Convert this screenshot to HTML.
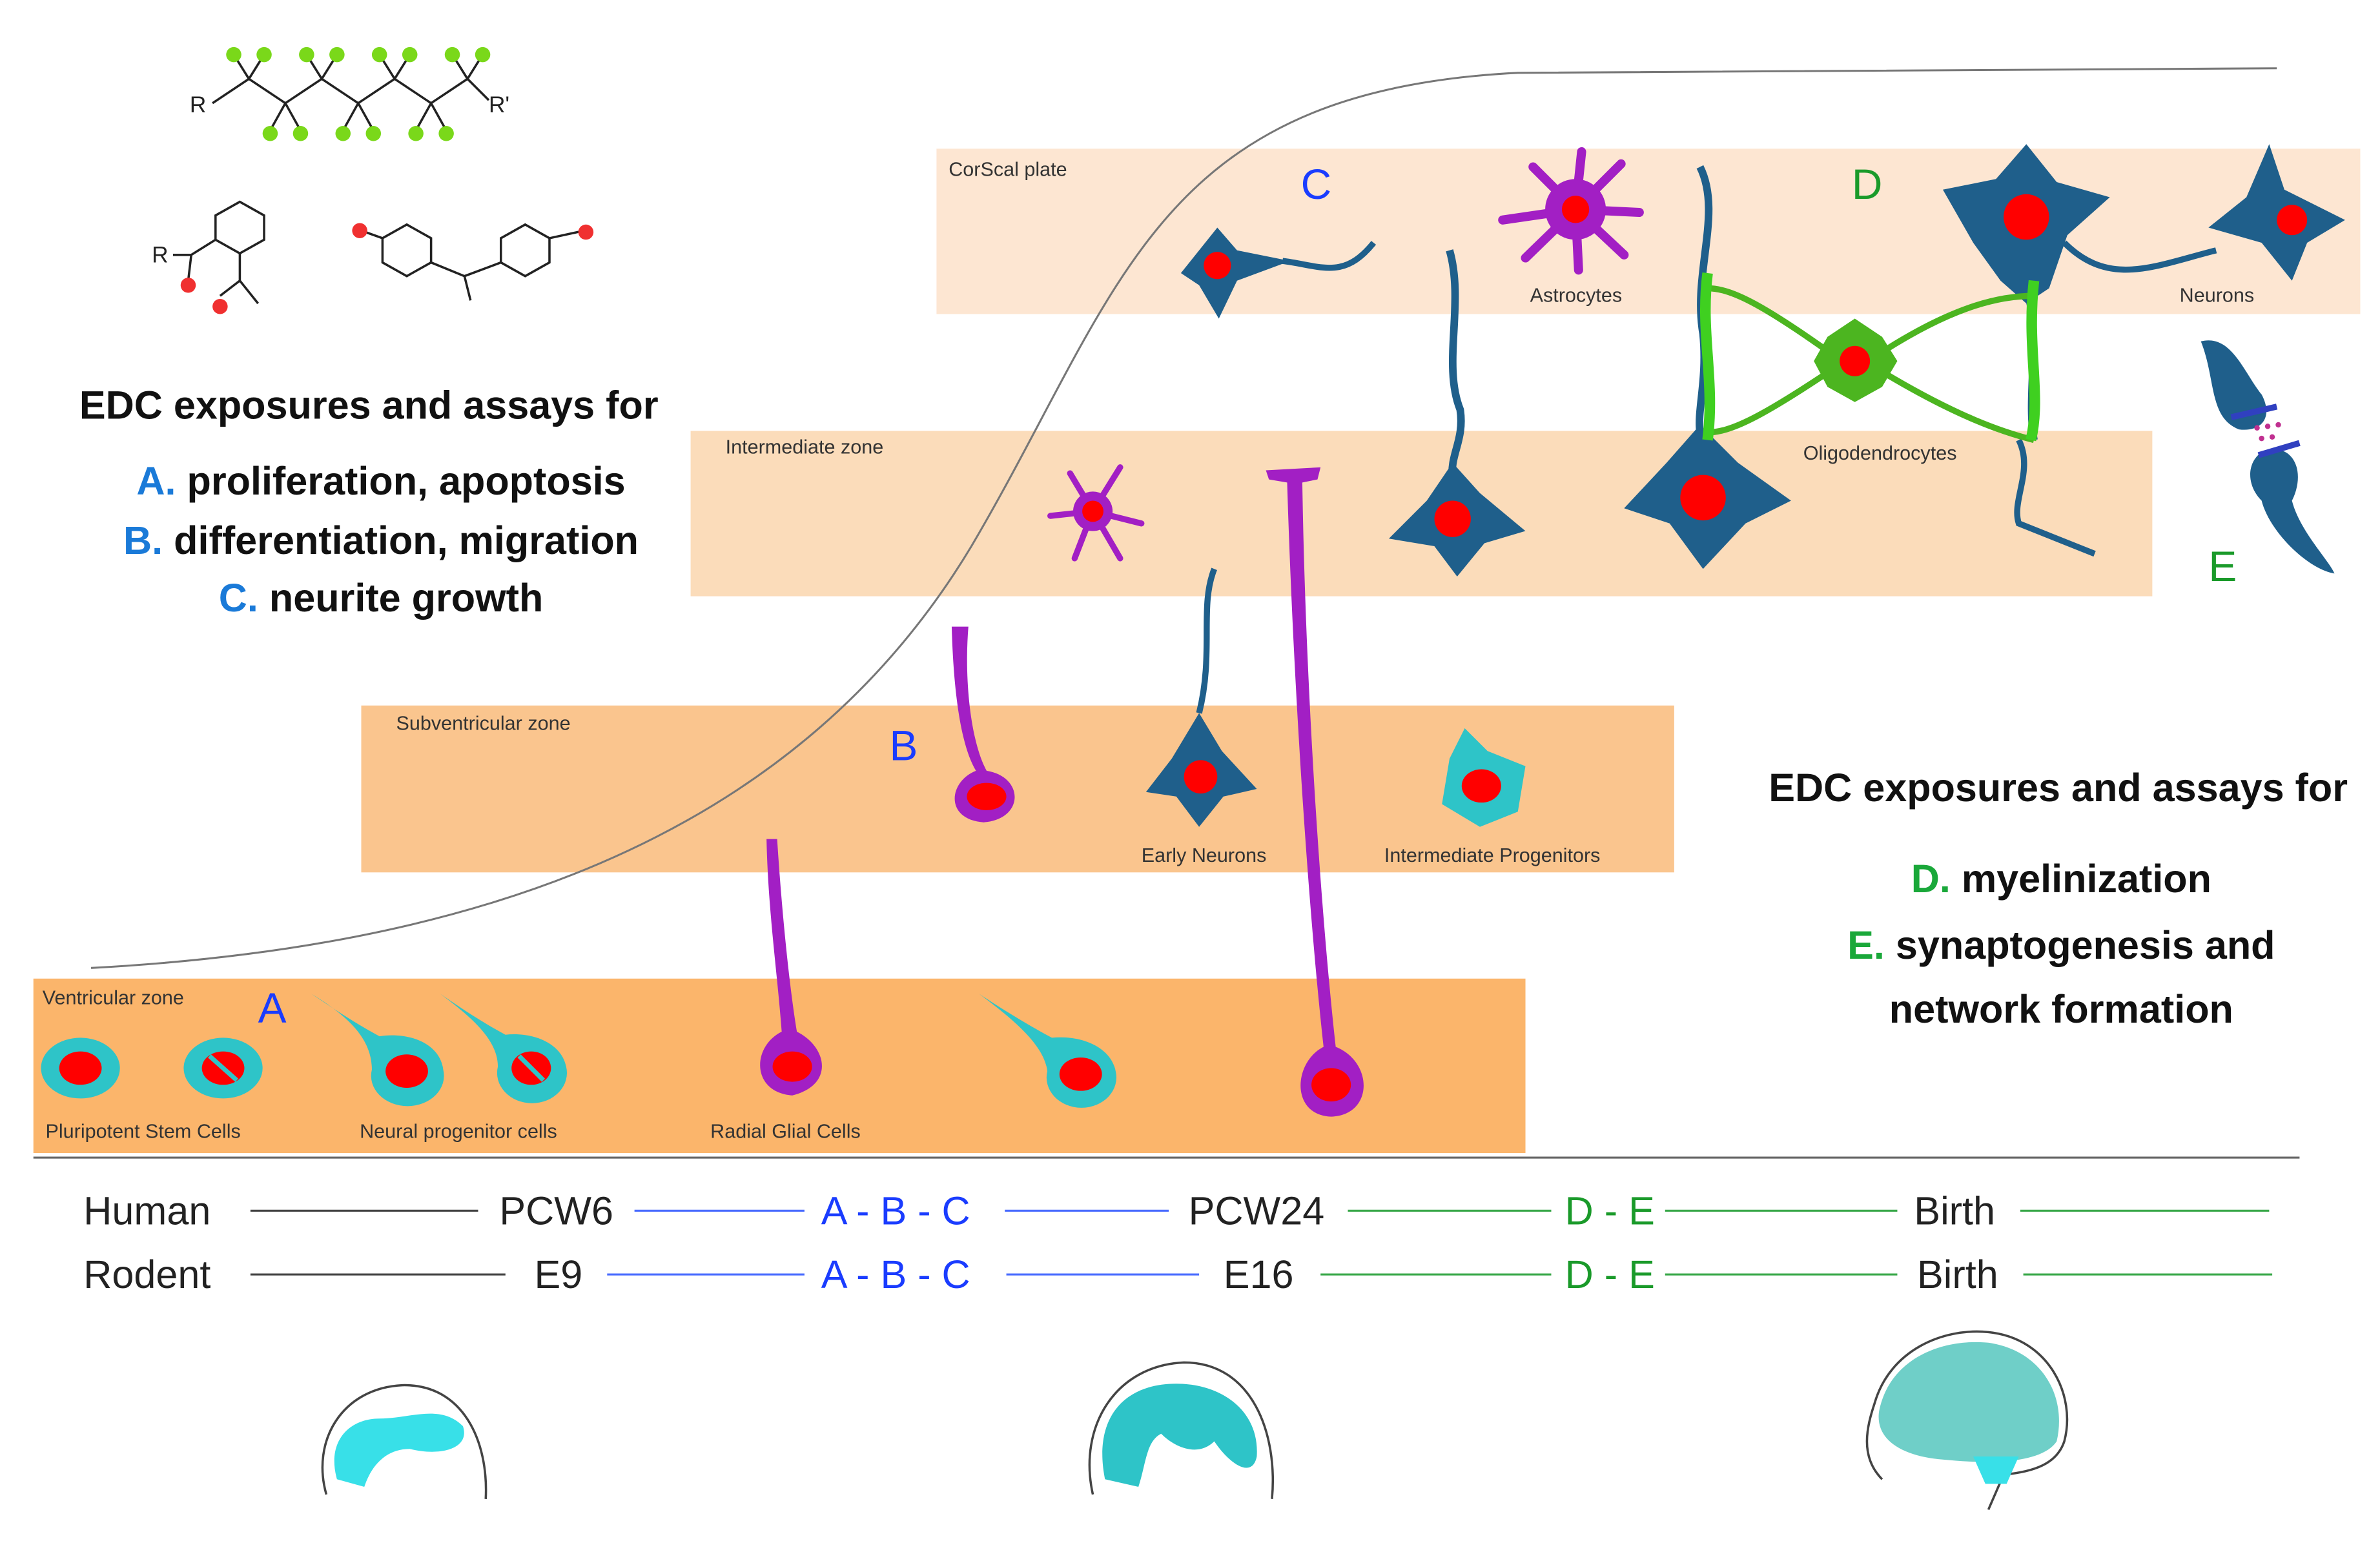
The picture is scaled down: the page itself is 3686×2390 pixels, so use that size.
<!DOCTYPE html>
<html><head><meta charset="utf-8"><style>
html,body{margin:0;padding:0;background:#fff;}
svg{display:block;}
text{font-family:"Liberation Sans","DejaVu Sans",sans-serif;}
</style></head><body>
<svg width="3686" height="2390" viewBox="0 0 1568 1017" preserveAspectRatio="none" xmlns="http://www.w3.org/2000/svg">
<rect width="1568" height="1017" fill="#fff"/>
<!-- zones -->
<rect x="617" y="98" width="938" height="109" fill="#fde6d2"/>
<rect x="455" y="284" width="963" height="109" fill="#fbdcba"/>
<rect x="238" y="465" width="865" height="110" fill="#fac58e"/>
<rect x="22" y="645" width="983" height="115" fill="#fbb56b"/>
<g font-size="13" fill="#333">
<text x="625" y="116">CorScal plate</text>
<text x="478" y="299">Intermediate zone</text>
<text x="261" y="481">Subventricular zone</text>
<text x="28" y="662">Ventricular zone</text>
<text x="30" y="750">Pluripotent Stem Cells</text>
<text x="237" y="750">Neural progenitor cells</text>
<text x="468" y="750">Radial Glial Cells</text>
<text x="752" y="568">Early Neurons</text>
<text x="912" y="568">Intermediate Progenitors</text>
<text x="1008" y="199">Astrocytes</text>
<text x="1188" y="303">Oligodendrocytes</text>
<text x="1436" y="199">Neurons</text>
</g>
<!-- sigmoid curve -->
<path d="M60 638 C 300 625, 520 560, 640 360 C 740 190, 760 60, 1000 48 L 1500 45" fill="none" stroke="#777" stroke-width="1.3"/>
<!-- baseline -->
<line x1="22" y1="763" x2="1515" y2="763" stroke="#666" stroke-width="1.3"/>
<!-- ventricular cells -->
<g>
<ellipse cx="53" cy="704" rx="26" ry="20" fill="#2ec4c8"/><ellipse cx="53" cy="704" rx="14" ry="11" fill="#f00"/>
<ellipse cx="147" cy="704" rx="26" ry="20" fill="#2ec4c8"/><ellipse cx="147" cy="704" rx="14" ry="11" fill="#f00"/>
<line x1="138" y1="696" x2="156" y2="712" stroke="#2ec4c8" stroke-width="3"/>
<path d="M205 655 C 230 670, 245 685, 245 705 A 24 20 0 1 0 292 705 C 290 688, 270 680, 250 683 C 235 675, 220 665, 205 655 Z" fill="#2ec4c8"/><ellipse cx="268" cy="706" rx="14" ry="11" fill="#f00"/>
<path d="M290 655 C 310 670, 328 685, 328 703 A 23 20 0 1 0 373 703 C 370 688, 352 680, 333 682 C 318 674, 303 664, 290 655 Z" fill="#2ec4c8"/><ellipse cx="350" cy="704" rx="13" ry="11" fill="#f00"/>
<line x1="342" y1="696" x2="358" y2="712" stroke="#2ec4c8" stroke-width="3"/>
<path d="M645 655 C 665 670, 688 688, 690 706 A 23 20 0 1 0 735 706 C 732 690, 712 682, 693 684 C 678 676, 660 665, 645 655 Z" fill="#2ec4c8"/><ellipse cx="712" cy="708" rx="14" ry="11" fill="#f00"/>
<!-- radial glia -->
<path d="M505 553 L512 553 C 515 600, 520 650, 525 680 C 545 690, 550 715, 522 722 C 495 720, 495 690, 515 680 C 512 640, 506 600, 505 553 Z" fill="#a21fc4"/><ellipse cx="522" cy="703" rx="13" ry="10" fill="#f00"/>
<path d="M834 310 L870 308 L868 316 L858 318 C 860 450, 870 600, 880 690 C 905 700, 905 735, 877 736 C 850 735, 852 700, 872 690 C 862 600, 852 450, 848 318 L836 316 Z" fill="#a21fc4"/><ellipse cx="877" cy="715" rx="13" ry="11" fill="#f00"/>
<path d="M627 413 L638 413 C 635 450, 640 490, 650 508 C 675 512, 675 540, 648 542 C 622 540, 625 515, 643 508 C 632 490, 628 450, 627 413 Z" fill="#a21fc4"/><ellipse cx="650" cy="525" rx="13" ry="9" fill="#f00"/>
</g>
<!-- early neuron & IP -->
<path d="M800 375 C 790 400, 800 430, 790 470" fill="none" stroke="#1f5f8b" stroke-width="4"/>
<path d="M790 470 L805 495 L828 520 L806 525 L790 545 L775 525 L755 522 L772 500 Z" fill="#1f5f8b"/><circle cx="791" cy="512" r="11" fill="#f00"/>
<path d="M965 480 L980 495 L1005 505 L1000 535 L975 545 L950 530 L955 500 Z" fill="#2ec4c8"/><ellipse cx="976" cy="518" rx="13" ry="11" fill="#f00"/>
<!-- IZ astrocyte -->
<g stroke="#a21fc4" stroke-width="4" stroke-linecap="round"><line x1="720" y1="337" x2="705" y2="312"/><line x1="720" y1="337" x2="738" y2="308"/><line x1="720" y1="337" x2="692" y2="340"/><line x1="720" y1="337" x2="752" y2="345"/><line x1="720" y1="337" x2="708" y2="368"/><line x1="720" y1="337" x2="738" y2="368"/></g>
<circle cx="720" cy="337" r="13" fill="#a21fc4"/><circle cx="720" cy="337" r="7" fill="#f00"/>
<!-- IZ neurons -->
<path d="M955 165 C 965 200, 950 240, 962 270 C 965 290, 955 300, 957 315" fill="none" stroke="#1f5f8b" stroke-width="5"/>
<path d="M957 305 L975 325 L1005 350 L978 358 L960 380 L945 360 L915 355 L940 330 Z" fill="#1f5f8b"/><circle cx="957" cy="342" r="12" fill="#f00"/>
<path d="M1120 280 L1145 305 L1180 330 L1150 345 L1122 375 L1100 345 L1070 335 L1098 305 Z" fill="#1f5f8b"/><circle cx="1122" cy="328" r="15" fill="#f00"/>
<path d="M1120 110 C 1135 140, 1115 180, 1122 220 C 1125 250, 1118 270, 1120 285" fill="none" stroke="#1f5f8b" stroke-width="5"/>
<path d="M1330 290 C 1340 310, 1325 330, 1330 345 L 1380 365" fill="none" stroke="#1f5f8b" stroke-width="4"/>
<!-- CP neurons -->
<path d="M802 150 L815 165 L850 172 L815 185 L803 210 L790 188 L778 180 L790 165 Z" fill="#1f5f8b"/><circle cx="802" cy="175" r="9" fill="#f00"/>
<path d="M845 172 C 870 175, 885 185, 905 160" fill="none" stroke="#1f5f8b" stroke-width="4"/>
<path d="M1335 95 L1355 120 L1390 130 L1362 155 L1350 190 L1335 200 L1318 185 L1300 160 L1280 125 L1315 118 Z" fill="#1f5f8b"/><circle cx="1335" cy="143" r="15" fill="#f00"/>
<path d="M1495 95 L1505 125 L1545 145 L1520 160 L1510 185 L1490 160 L1455 150 L1480 130 Z" fill="#1f5f8b"/><circle cx="1510" cy="145" r="10" fill="#f00"/>
<path d="M1335 190 C 1345 220, 1335 260, 1340 290" fill="none" stroke="#1f5f8b" stroke-width="5"/>
<path d="M1360 160 C 1390 190, 1420 175, 1460 165" fill="none" stroke="#1f5f8b" stroke-width="4"/>
<!-- CP astrocyte -->
<g stroke="#a21fc4" stroke-width="6" stroke-linecap="round"><line x1="1038" y1="138" x2="1010" y2="110"/><line x1="1038" y1="138" x2="1042" y2="100"/><line x1="1038" y1="138" x2="1068" y2="108"/><line x1="1038" y1="138" x2="990" y2="145"/><line x1="1038" y1="138" x2="1080" y2="140"/><line x1="1038" y1="138" x2="1005" y2="170"/><line x1="1038" y1="138" x2="1040" y2="178"/><line x1="1038" y1="138" x2="1070" y2="168"/></g>
<circle cx="1038" cy="138" r="20" fill="#a21fc4"/><circle cx="1038" cy="138" r="9" fill="#f00"/>
<!-- oligodendrocyte -->
<g fill="none" stroke="#4cb520" stroke-width="4">
<path d="M1205 232 C 1160 200, 1140 190, 1125 190"/><path d="M1205 245 C 1160 275, 1140 285, 1125 285"/>
<path d="M1240 232 C 1290 200, 1320 195, 1340 195"/><path d="M1240 245 C 1290 275, 1320 285, 1340 290"/>
</g>
<g stroke="#3fd020" stroke-width="7" fill="none"><path d="M1125 180 C 1120 220, 1130 250, 1125 290"/><path d="M1340 185 C 1335 230, 1345 260, 1338 290"/></g>
<path d="M1222 210 L1240 222 L1250 238 L1240 255 L1222 265 L1204 255 L1195 238 L1204 222 Z" fill="#4cb520"/><circle cx="1222" cy="238" r="10" fill="#f00"/>
<!-- synapse -->
<path d="M1450 225 C 1470 220, 1478 245, 1490 260 C 1498 275, 1490 285, 1475 283 C 1455 275, 1460 250, 1450 225 Z" fill="#1f5f8b"/>
<path d="M1490 298 C 1510 290, 1520 310, 1510 330 C 1515 350, 1535 370, 1538 378 C 1520 375, 1495 350, 1490 330 C 1480 320, 1480 305, 1490 298 Z" fill="#1f5f8b"/>
<line x1="1470" y1="275" x2="1500" y2="268" stroke="#3040c0" stroke-width="4"/><line x1="1488" y1="300" x2="1515" y2="292" stroke="#3040c0" stroke-width="4"/>
<g fill="#c03090"><circle cx="1487" cy="282" r="1.8"/><circle cx="1494" cy="281" r="1.8"/><circle cx="1501" cy="280" r="1.8"/><circle cx="1490" cy="289" r="1.8"/><circle cx="1497" cy="288" r="1.8"/></g>
<!-- zone letters -->
<g font-size="28">
<text x="170" y="674" fill="#1a3cff">A</text>
<text x="586" y="501" fill="#1a3cff">B</text>
<text x="857" y="131" fill="#1a3cff">C</text>
<text x="1220" y="131" fill="#1a9a2a">D</text>
<text x="1455" y="383" fill="#1a9a2a">E</text>
</g>
<!-- molecules -->
<g stroke="#222" stroke-width="1.5" fill="none">
<path d="M140 68 L164 52 L188 68 L212 52 L236 68 L260 52 L284 68 L308 52 L322 66"/>
<path d="M164 52 L154 36 M164 52 L174 36 M212 52 L202 36 M212 52 L222 36 M260 52 L250 36 M260 52 L270 36 M308 52 L298 36 M308 52 L318 36"/>
<path d="M188 68 L178 86 M188 68 L198 86 M236 68 L226 86 M236 68 L246 86 M284 68 L274 86 M284 68 L294 86"/>
<polygon points="142,158 142,142 158,133 174,142 174,158 158,167"/>
<path d="M142 158 L126 168 L124 185 M158 167 L158 185 L145 195 M158 185 L170 200"/>
<path d="M114 168 L126 168"/>
<polygon points="252,157 252,173 268,182 284,173 284,157 268,148"/>
<polygon points="330,157 330,173 346,182 362,173 362,157 346,148"/>
<path d="M238 152 L252 157 M284 173 L306 182 L330 173 M306 182 L310 198 M362 157 L385 152"/>
</g>
<g fill="#7ad81a">
<circle cx="154" cy="36" r="5"/><circle cx="174" cy="36" r="5"/><circle cx="202" cy="36" r="5"/><circle cx="222" cy="36" r="5"/><circle cx="250" cy="36" r="5"/><circle cx="270" cy="36" r="5"/><circle cx="298" cy="36" r="5"/><circle cx="318" cy="36" r="5"/>
<circle cx="178" cy="88" r="5"/><circle cx="198" cy="88" r="5"/><circle cx="226" cy="88" r="5"/><circle cx="246" cy="88" r="5"/><circle cx="274" cy="88" r="5"/><circle cx="294" cy="88" r="5"/>
</g>
<g fill="#f03030"><circle cx="124" cy="188" r="5"/><circle cx="145" cy="202" r="5"/><circle cx="237" cy="152" r="5"/><circle cx="386" cy="153" r="5"/></g>
<g font-size="15" fill="#222"><text x="125" y="74">R</text><text x="322" y="74">R'</text><text x="100" y="173">R</text></g>
<!-- left text -->
<g font-size="26" font-weight="bold" text-anchor="middle" fill="#111">
<text x="243" y="276">EDC exposures and assays for</text>
<text x="251" y="326"><tspan fill="#1a7ad8">A.</tspan> proliferation, apoptosis</text>
<text x="251" y="365"><tspan fill="#1a7ad8">B.</tspan> differentiation, migration</text>
<text x="251" y="403"><tspan fill="#1a7ad8">C.</tspan> neurite growth</text>
<text x="1356" y="528">EDC exposures and assays for</text>
<text x="1358" y="588"><tspan fill="#1aa83a">D.</tspan> myelinization</text>
<text x="1358" y="632"><tspan fill="#1aa83a">E.</tspan> synaptogenesis and</text>
<text x="1358" y="674">network formation</text>
</g>
<!-- timeline -->
<g font-size="26">
<text x="55" y="807" fill="#222">Human</text>
<text x="329" y="807" fill="#222">PCW6</text>
<text x="541" y="807" fill="#1a3cff">A -  B -  C</text>
<text x="783" y="807" fill="#222">PCW24</text>
<text x="1031" y="807" fill="#1a9a2a">D - E</text>
<text x="1261" y="807" fill="#222">Birth</text>
<text x="55" y="849" fill="#222">Rodent</text>
<text x="352" y="849" fill="#222">E9</text>
<text x="541" y="849" fill="#1a3cff">A -  B -  C</text>
<text x="806" y="849" fill="#222">E16</text>
<text x="1031" y="849" fill="#1a9a2a">D - E</text>
<text x="1263" y="849" fill="#222">Birth</text>
</g>
<g stroke-width="1.3">
<line x1="165" y1="798" x2="315" y2="798" stroke="#444"/>
<line x1="418" y1="798" x2="530" y2="798" stroke="#4a6cff"/>
<line x1="662" y1="798" x2="770" y2="798" stroke="#4a6cff"/>
<line x1="888" y1="798" x2="1022" y2="798" stroke="#3aa84a"/>
<line x1="1097" y1="798" x2="1250" y2="798" stroke="#3aa84a"/>
<line x1="1331" y1="798" x2="1495" y2="798" stroke="#3aa84a"/>
<line x1="165" y1="840" x2="333" y2="840" stroke="#444"/>
<line x1="400" y1="840" x2="530" y2="840" stroke="#4a6cff"/>
<line x1="663" y1="840" x2="790" y2="840" stroke="#4a6cff"/>
<line x1="870" y1="840" x2="1022" y2="840" stroke="#3aa84a"/>
<line x1="1097" y1="840" x2="1250" y2="840" stroke="#3aa84a"/>
<line x1="1333" y1="840" x2="1497" y2="840" stroke="#3aa84a"/>
</g>
<!-- brains -->
<path d="M215 985 C 205 950, 225 915, 265 913 C 305 912, 322 950, 320 988" fill="none" stroke="#444" stroke-width="1.5"/>
<path d="M222 975 C 215 950, 230 935, 250 935 C 270 935, 290 925, 305 940 C 310 955, 290 960, 270 955 C 255 955, 245 965, 240 980 Z" fill="#38e0e8"/>
<path d="M720 985 C 710 940, 735 900, 780 898 C 825 898, 842 945, 838 988" fill="none" stroke="#444" stroke-width="1.5"/>
<path d="M728 975 C 720 935, 740 912, 775 912 C 805 912, 830 930, 828 960 C 825 975, 810 965, 800 950 C 790 960, 775 955, 765 945 C 755 950, 755 965, 750 980 Z" fill="#2ec4c8"/>
<path d="M1240 975 C 1225 960, 1230 940, 1235 925 C 1245 890, 1280 875, 1310 878 C 1350 882, 1368 920, 1360 950 C 1355 965, 1340 970, 1320 972 L 1310 995" fill="none" stroke="#444" stroke-width="1.5"/>
<path d="M1238 930 C 1245 895, 1280 882, 1310 885 C 1345 890, 1362 920, 1355 950 C 1345 965, 1310 965, 1280 962 C 1255 960, 1235 950, 1238 930 Z" fill="#6fcfc8"/>
<path d="M1300 960 L1330 960 L1322 978 L1308 978 Z" fill="#38e0e8"/>
</svg>
</body></html>
